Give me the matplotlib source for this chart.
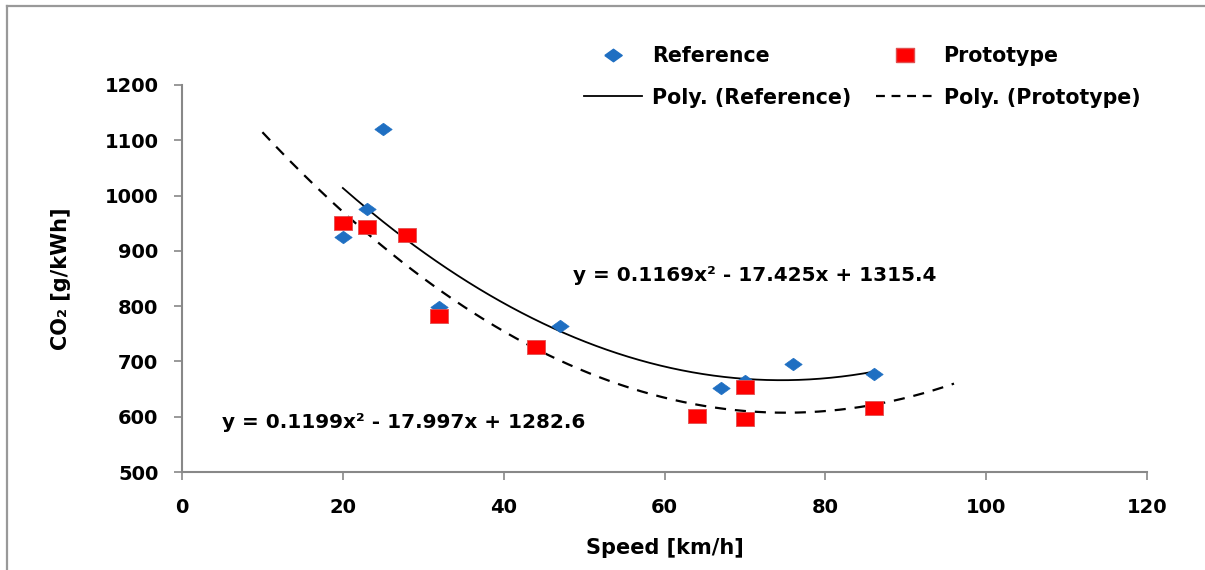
import numpy as np
import matplotlib
matplotlib.use("Agg")
import matplotlib.pyplot as plt
from matplotlib.lines import Line2D

plt.rcParams.update({
    "font.family": ["DejaVu Sans"],
    "font.weight": "bold",
    "axes.labelweight": "bold",
})

# --- data ---
ref_speed = [20, 23, 25, 32, 47, 67, 70, 76, 86]
ref_co2 = [925, 975, 1120, 798, 764, 652, 664, 695, 677]
proto_speed = [20, 23, 28, 32, 44, 64, 70, 70, 86]
proto_co2 = [951, 944, 928, 782, 726, 601, 654, 596, 616]

# trendline coefficients (a, b, c) as printed on the chart, and x span drawn
ref_coef = [0.1169, -17.425, 1315.4]
ref_span = [20, 86]
proto_coef = [0.1199, -17.997, 1282.6]
proto_span = [10, 96]

xticks = [0, 20, 40, 60, 80, 100, 120]
yticks = [500, 600, 700, 800, 900, 1000, 1100, 1200]

BLUE = "#1F6FC2"
RED = "#FF0000"
AXC = "#888888"

diamond = [(-1, 0), (0, 0.72), (1, 0), (0, -0.72), (-1, 0)]
box = [(-1, -0.8), (1, -0.8), (1, 0.8), (-1, 0.8), (-1, -0.8)]

fig = plt.figure(figsize=(12.05, 5.70), dpi=100)
ax = fig.add_axes([182 / 1205, 1 - 472 / 570, 965 / 1205, 387 / 570])

xr = np.linspace(ref_span[0], ref_span[1], 200)
xp = np.linspace(proto_span[0], proto_span[1], 200)
ax.plot(xr, np.polyval(ref_coef, xr), color="black", lw=1.3, zorder=2)
ax.plot(xp, np.polyval(proto_coef, xp), color="black", lw=1.6,
        ls=(0, (5, 4)), zorder=2)

ax.plot(ref_speed, ref_co2, ls="none", marker=diamond, ms=12.5,
        color=BLUE, mec=BLUE, mew=0.5, zorder=3)
ax.plot(proto_speed, proto_co2, ls="none", marker=box, ms=12.5,
        color=RED, mec="#E05050", mew=0.6, zorder=4)

ax.text(48.6, 856, "y = 0.1169x² - 17.425x + 1315.4", fontsize=14.4,
        fontweight="bold", va="center", ha="left")
ax.text(5.0, 590, "y = 0.1199x² - 17.997x + 1282.6", fontsize=14.4,
        fontweight="bold", va="center", ha="left")

ax.set_xlim(0, 120)
ax.set_ylim(500, 1200)
ax.set_xticks(xticks)
ax.set_yticks(yticks)
for s in ["top", "right"]:
    ax.spines[s].set_visible(False)
for s in ["left", "bottom"]:
    ax.spines[s].set_color(AXC)
    ax.spines[s].set_linewidth(1.5)
ax.tick_params(axis="both", colors=AXC, length=6, width=1.2, labelsize=14,
               labelcolor="black")
ax.tick_params(axis="x", pad=13)
ax.tick_params(axis="y", pad=11)
for lab in ax.get_xticklabels() + ax.get_yticklabels():
    lab.set_fontweight("bold")

ax.set_xlabel("Speed [km/h]", fontsize=15, fontweight="bold", labelpad=15)
ax.set_ylabel("CO₂ [g/kWh]", fontsize=15, fontweight="bold", labelpad=24)

handles = [
    Line2D([], [], ls="none", marker=diamond, ms=12.5, color=BLUE),
    Line2D([], [], color="black", lw=1.3),
    Line2D([], [], ls="none", marker=box, ms=12.5, color=RED, mec="#E05050"),
    Line2D([], [], color="black", lw=1.6, ls=(0, (4, 3))),
]
labels = ["Reference", "Poly. (Reference)", "Prototype", "Poly. (Prototype)"]
leg = fig.legend(handles, labels, loc="upper left", ncol=2,
                 bbox_to_anchor=(584 / 1205, 1 - 46 / 570), frameon=False,
                 prop={"size": 14.8, "weight": "bold"}, handlelength=2.8,
                 handletextpad=0.5, columnspacing=1.2, labelspacing=1.05,
                 borderpad=0, borderaxespad=0)

# outer frame (top and left edges visible in the crop)
fig.add_artist(Line2D([7 / 1205, 7 / 1205], [0, 1 - 6 / 570],
                      color="#999999", lw=1.6, transform=fig.transFigure))
fig.add_artist(Line2D([7 / 1205, 1], [1 - 6 / 570, 1 - 6 / 570],
                      color="#999999", lw=1.6, transform=fig.transFigure))

fig.savefig("out.png", dpi=100)
